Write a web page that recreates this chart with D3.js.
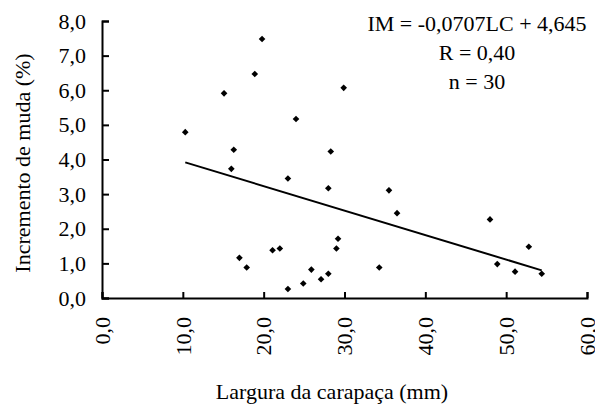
<!DOCTYPE html>
<html>
<head>
<meta charset="utf-8">
<script src="https://cdn.jsdelivr.net/npm/d3@7"></script>
<style>
  html, body { margin: 0; padding: 0; background: #fff; }
  svg { display: block; }
  svg text { font-family: "Liberation Serif", "Tinos", "DejaVu Serif", "Times New Roman", Times, serif !important; fill: #000; }
</style>
</head>
<body>
<svg id="chart" width="595" height="404"></svg>
<script>
// Data: carapace width (mm) vs moult increment (%)
const larguraCarapaca = [19.8, 18.9, 15.1, 10.3, 16.3, 29.9, 24.0, 28.3, 16.0, 17.0,
                         17.9, 23.0, 28.0, 35.5, 36.5, 29.2, 29.0, 21.1, 22.0, 25.9,
                         34.3, 28.0, 27.1, 24.9, 23.0, 48.0, 52.8, 48.9, 51.1, 54.4];
const incrementoMuda = [7.48, 6.47, 5.91, 4.79, 4.28, 6.07, 5.17, 4.23, 3.73, 1.16,
                        0.88, 3.45, 3.17, 3.11, 2.45, 1.71, 1.43, 1.38, 1.43, 0.82,
                        0.88, 0.70, 0.54, 0.42, 0.26, 2.27, 1.48, 0.98, 0.76, 0.70];
const xTicks = [0, 10, 20, 30, 40, 50, 60];
const yTicks = [0, 1, 2, 3, 4, 5, 6, 7, 8];
const slope = -0.0707, intercept = 4.645;
const equationLines = ["IM = -0,0707LC + 4,645", "R = 0,40", "n = 30"];
const xTitle = "Largura da carapaça (mm)";
const yTitle = "Incremento de muda (%)";

const FONT = "'Liberation Serif', 'Tinos', 'DejaVu Serif', 'Times New Roman', Times, serif";
const svg = d3.select("#chart").style("font-family", FONT);
const FS = 22;
const x = d3.scaleLinear().domain([0, 60]).range([102, 587]);
const y = d3.scaleLinear().domain([0, 8]).range([298, 21]);
const fmt = v => d3.format(".1f")(v).replace(".", ",");

// Y axis
const gy = svg.append("g").attr("transform", `translate(${x(0)},0)`)
  .call(d3.axisLeft(y).tickValues(yTicks).tickFormat(fmt)
    .tickSizeInner(-7).tickSizeOuter(-7).tickPadding(16));
gy.attr("font-family", null);
gy.selectAll("path, line").attr("stroke", "#000").attr("stroke-width", 2);
gy.selectAll("text").attr("font-size", FS).style("font-family", FONT);

// X axis
const gx = svg.append("g").attr("transform", `translate(0,${y(0)})`)
  .call(d3.axisBottom(x).tickValues(xTicks).tickFormat(fmt)
    .tickSizeInner(-6).tickSizeOuter(-6));
gx.attr("font-family", null);
gx.selectAll("path, line").attr("stroke", "#000").attr("stroke-width", 2);
gx.selectAll("text")
  .attr("font-size", FS).style("font-family", FONT)
  .attr("transform", "rotate(-90)")
  .attr("x", -19).attr("y", 0).attr("dy", "0.33em")
  .attr("text-anchor", "end");
svg.selectAll(".domain").attr("fill", "none");

// Regression line over data range
const xmin = d3.min(larguraCarapaca), xmax = d3.max(larguraCarapaca);
svg.append("line")
  .attr("x1", x(xmin)).attr("y1", y(slope * xmin + intercept))
  .attr("x2", x(xmax)).attr("y2", y(slope * xmax + intercept))
  .attr("stroke", "#000").attr("stroke-width", 2);

// Points (diamonds)
const diamond = d3.symbol().type(d3.symbolSquare).size(22);
svg.append("g").selectAll("path")
  .data(larguraCarapaca.map((v, i) => [v, incrementoMuda[i]]))
  .join("path")
  .attr("d", diamond)
  .attr("transform", d => `translate(${x(d[0])},${y(d[1])}) rotate(45)`)
  .attr("fill", "#000");

// Equation text
svg.append("g").selectAll("text")
  .data(equationLines)
  .join("text")
  .attr("x", 477).attr("y", (d, i) => 31 + i * 29)
  .attr("text-anchor", "middle").attr("font-size", FS)
  .style("font-family", FONT)
  .text(d => d);

// Axis titles
svg.append("text")
  .attr("x", 332).attr("y", 399)
  .attr("text-anchor", "middle").attr("font-size", FS)
  .style("font-family", FONT)
  .text(xTitle);
svg.append("text")
  .attr("transform", "translate(30,163) rotate(-90)")
  .attr("text-anchor", "middle").attr("font-size", FS)
  .style("font-family", FONT)
  .text(yTitle);
</script>
</body>
</html>
